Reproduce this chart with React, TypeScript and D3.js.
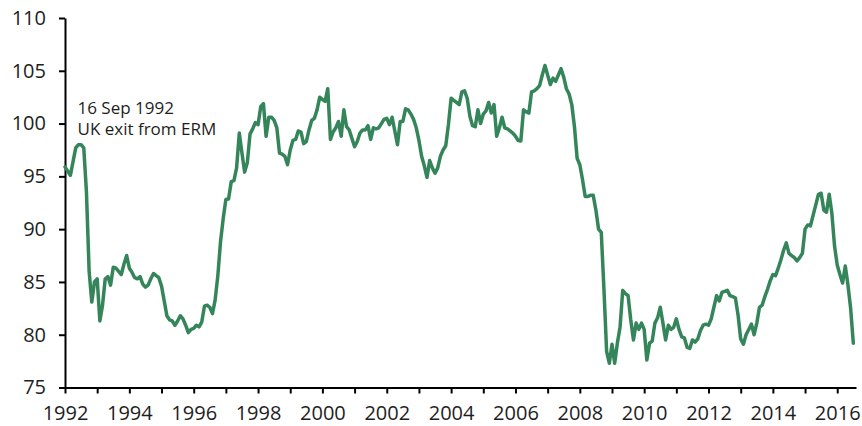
import React, { useRef, useEffect } from "react";
import * as d3 from "d3";

// monthly index values, Jan 1992 .. Jul 2016
const v1992 = [95.9, 95.5, 95.1, 96.4, 97.7, 98.0, 98.0, 97.7, 93.5, 86.0, 83.1, 85.0];
const v1993 = [85.3, 81.3, 82.8, 85.3, 85.5, 84.7, 86.4, 86.3, 86.0, 85.7, 86.7, 87.5];
const v1994 = [86.3, 85.9, 85.4, 85.3, 85.5, 84.8, 84.5, 84.7, 85.3, 85.8, 85.6, 85.4];
const v1995 = [84.6, 83.2, 81.8, 81.4, 81.3, 80.9, 81.3, 81.8, 81.5, 80.9, 80.2, 80.5];
const v1996 = [80.6, 80.9, 80.75, 81.2, 82.7, 82.8, 82.6, 82.0, 83.3, 85.6, 88.8, 91.0];
const v1997 = [92.8, 92.85, 94.5, 94.6, 95.8, 99.1, 97.2, 95.4, 96.3, 99.0, 99.5, 100.1];
const v1998 = [99.9, 101.6, 101.9, 98.8, 100.6, 100.6, 100.3, 99.6, 97.2, 97.1, 96.9, 96.1];
const v1999 = [97.5, 98.4, 98.5, 99.3, 99.2, 98.1, 98.3, 99.4, 100.3, 100.5, 101.3, 102.5];
const v2000 = [102.3, 102.1, 103.3, 98.5, 99.2, 99.6, 100.2, 98.8, 101.3, 99.7, 99.4, 98.6];
const v2001 = [97.8, 98.3, 99.1, 99.4, 99.4, 99.8, 98.5, 99.6, 99.5, 99.6, 100.0, 100.4];
const v2002 = [100.5, 99.9, 100.6, 99.3, 98.0, 100.2, 100.2, 101.4, 101.3, 100.9, 100.4, 99.6];
const v2003 = [98.4, 96.9, 96.0, 94.9, 96.5, 95.8, 95.3, 95.8, 96.9, 97.5, 97.9, 99.9];
const v2004 = [102.4, 102.2, 102.0, 101.8, 103.0, 103.1, 102.4, 100.7, 99.8, 99.7, 101.3, 100.0];
const v2005 = [100.9, 101.2, 102.0, 101.0, 101.8, 98.8, 99.6, 100.6, 99.6, 99.5, 99.3, 99.1];
const v2006 = [98.8, 98.4, 98.35, 101.3, 101.1, 101.0, 103.0, 103.1, 103.3, 103.6, 104.6, 105.5];
const v2007 = [104.6, 103.7, 104.3, 104.0, 104.6, 105.2, 104.4, 103.3, 102.8, 101.8, 99.7, 96.7];
const v2008 = [96.1, 94.7, 93.1, 93.1, 93.2, 93.2, 91.8, 90.0, 89.7, 84.3, 78.4, 77.3];
const v2009 = [79.1, 77.3, 79.2, 80.7, 84.2, 83.9, 83.7, 81.4, 79.5, 81.1, 80.5, 81.1];
const v2010 = [80.5, 77.6, 79.2, 79.4, 81.1, 81.6, 82.6, 81.1, 79.5, 80.9, 80.5, 80.7];
const v2011 = [81.5, 80.5, 79.8, 79.7, 78.8, 78.7, 79.5, 79.3, 79.6, 80.4, 80.9, 81.0];
const v2012 = [80.9, 81.5, 82.6, 83.7, 83.2, 84.0, 84.1, 84.2, 83.7, 83.6, 83.5, 81.9];
const v2013 = [79.6, 79.1, 80.0, 80.5, 81.0, 80.0, 81.1, 82.6, 82.8, 83.6, 84.3, 85.1];
const v2014 = [85.7, 85.6, 86.3, 87.1, 88.0, 88.7, 87.7, 87.5, 87.3, 87.0, 87.3, 87.7];
const v2015 = [90.0, 90.4, 90.3, 91.3, 92.3, 93.3, 93.4, 91.8, 91.6, 93.3, 91.5, 88.4];
const v2016 = [86.6, 85.7, 84.9, 86.5, 84.7, 82.5, 79.2];

const startYear = 1992;
const yTicks = [75, 80, 85, 90, 95, 100, 105, 110];
const xLabelYears = [1992, 1994, 1996, 1998, 2000, 2002, 2004, 2006, 2008, 2010, 2012, 2014, 2016];
const noteLines = ["16 Sep 1992", "UK exit from ERM"];

const series = [
  v1992, v1993, v1994, v1995, v1996, v1997, v1998, v1999, v2000, v2001, v2002, v2003, v2004,
  v2005, v2006, v2007, v2008, v2009, v2010, v2011, v2012, v2013, v2014, v2015, v2016,
].flat();

const App: React.FC = () => {
  const svgRef = useRef<SVGSVGElement>(null);

  useEffect(() => {
    document.body.style.margin = "0";
    const svg = d3.select(svgRef.current);
    svg.selectAll("*").remove();

    const width = 862;
    const height = 426;
    const margin = { top: 18, right: 6, bottom: 38.5, left: 65 };
    const font = "'Open Sans', 'DejaVu Sans', sans-serif";

    const endT = startYear + series.length / 12;
    const x = d3.scaleLinear().domain([startYear, endT]).range([margin.left, width - margin.right]);
    const y = d3.scaleLinear().domain([75, 110]).range([height - margin.bottom, margin.top]);

    const allYears = d3.range(startYear, Math.floor(endT) + 1);

    const gx = svg
      .append("g")
      .attr("transform", `translate(0,${height - margin.bottom})`)
      .call(
        d3
          .axisBottom(x)
          .tickValues(allYears)
          .tickSize(6)
          .tickSizeOuter(0)
          .tickPadding(12)
          .tickFormat((d) => (xLabelYears.includes(+d) ? String(d) : ""))
      );

    const gy = svg
      .append("g")
      .attr("transform", `translate(${margin.left},0)`)
      .call(d3.axisLeft(y).tickValues(yTicks).tickSize(6).tickSizeOuter(0).tickPadding(13));

    [gx, gy].forEach((g) => {
      g.attr("font-family", font).attr("font-size", 20).attr("color", "#1e1e1e");
      g.select(".domain").attr("stroke", "#000").attr("stroke-width", 2);
      g.selectAll(".tick line").attr("stroke", "#000").attr("stroke-width", 2);
    });

    const line = d3
      .line<number>()
      .x((_, i) => x(startYear + i / 12))
      .y((d) => y(d));

    svg
      .append("path")
      .datum(series)
      .attr("d", line)
      .attr("fill", "none")
      .attr("stroke", "#35855a")
      .attr("stroke-width", 3.5)
      .attr("stroke-linejoin", "round")
      .attr("stroke-linecap", "round");

    svg
      .append("text")
      .attr("x", 77.5)
      .attr("y", 114)
      .attr("font-family", font)
      .attr("font-size", 17)
      .attr("fill", "#1e1e1e")
      .selectAll("tspan")
      .data(noteLines)
      .enter()
      .append("tspan")
      .attr("x", 77.5)
      .attr("dy", (_, i) => (i === 0 ? 0 : 21))
      .text((d) => d);
  }, []);

  return <svg ref={svgRef} width={862} height={426} style={{ display: "block" }}></svg>;
};

export default App;
